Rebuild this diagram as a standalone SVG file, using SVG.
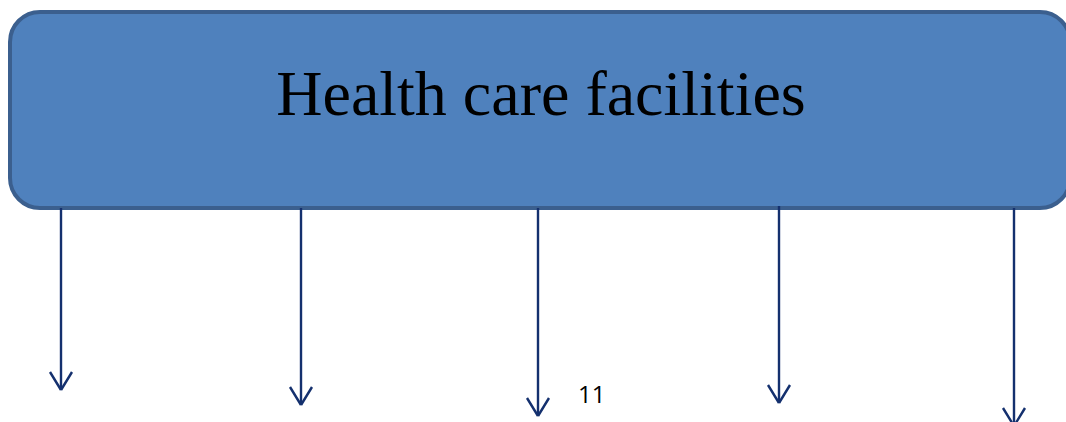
<svg xmlns="http://www.w3.org/2000/svg" width="1066" height="422" viewBox="0 0 1066 422">
<defs>
<style>
.box{fill:#4f81bd;stroke:#3b5f8e;stroke-width:4}
.title{font-family:"Liberation Serif",serif;font-size:64px;fill:#000}
.conn{stroke:#14306e;stroke-width:2.4;fill:none}
.num{font-family:"Open Sans","Liberation Sans",sans-serif;font-size:24px;fill:#000}
</style>
</defs>
<g id="node-health">
<rect class="box" x="10" y="12" width="1060" height="196" rx="30" ry="30"/>
<text class="title" x="541" y="115" text-anchor="middle">Health care facilities</text>
</g>
<g id="connectors">
<path class="conn" d="M61,208 V390"/>
<path class="conn" d="M61,390 L50,372 M61,390 L72,372"/>
<path class="conn" d="M301,208 V405"/>
<path class="conn" d="M301,405 L290,387 M301,405 L312,387"/>
<path class="conn" d="M538,208 V416"/>
<path class="conn" d="M538,416 L527,398 M538,416 L549,398"/>
<path class="conn" d="M779,206 V403"/>
<path class="conn" d="M779,403 L768,385 M779,403 L790,385"/>
<path class="conn" d="M1014,208 V426"/>
<path class="conn" d="M1014,426 L1003,408 M1014,426 L1025,408"/>
</g>
<text class="num" x="578" y="403">11</text>
</svg>
